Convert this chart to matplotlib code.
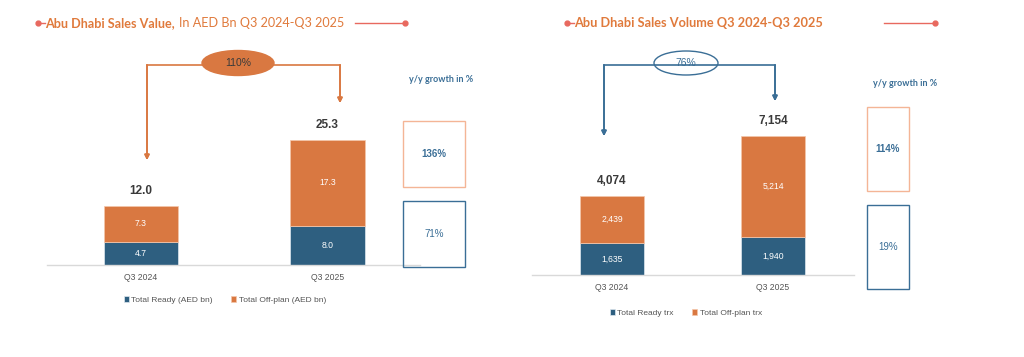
import matplotlib
matplotlib.use("Agg")
import matplotlib.pyplot as plt
from matplotlib.lines import Line2D
from matplotlib.patches import Ellipse, Rectangle

# data
quarters = ["Q3 2024", "Q3 2025"]
value_ready = [4.7, 8.0]
value_offplan = [7.3, 17.3]
value_total = [12.0, 25.3]
value_growth = "110%"
value_yoy = ["136%", "71%"]   # off-plan, ready

volume_ready = [1635, 1940]
volume_offplan = [2439, 5214]
volume_total = [4074, 7154]
volume_growth = "76%"
volume_yoy = ["114%", "19%"]

BLUE = "#2e5f80"
ORANGE = "#d97841"
TITLE_OR = "#e07a3c"
RED = "#e8695f"
TXT_BLUE = "#3a6e96"
DARK = "#3a3a3a"

W, H = 1024, 357


def fx(x):
    return x / W


def fy(y):
    return 1 - y / H


fig = plt.figure(figsize=(W / 100, H / 100), dpi=100)
fig.patch.set_facecolor("white")


def panel(left, right, base, top, centers, ppu, ready, offplan, total, fmt, leg_labels, leg_xy):
    ax = fig.add_axes([fx(left), fy(base), (right - left) / W, (base - top) / H])
    step = centers[1] - centers[0]
    ax.set_xlim((left - centers[0]) / step, (right - centers[0]) / step)
    ax.set_ylim(0, (base - top) / ppu)
    x = [0, 1]
    b1 = ax.bar(x, ready, width=0.4, color=BLUE, edgecolor="#dfe8ef", linewidth=0.5)
    b2 = ax.bar(x, offplan, width=0.4, bottom=ready, color=ORANGE, edgecolor="#f5c7ab", linewidth=0.5)
    for i in x:
        ax.text(i, ready[i] / 2, fmt(ready[i]), ha="center", va="center", color="white",
                fontsize=6.2, family="Liberation Sans")
        ax.text(i, ready[i] + offplan[i] / 2, fmt(offplan[i]), ha="center", va="center",
                color="white", fontsize=6.2, family="Liberation Sans")
        ax.text(i, total[i] + 15 / ppu, fmt(total[i]), ha="center", va="center", color=DARK,
                fontsize=8.5, fontweight="bold", family="Liberation Sans")
    for s in ["top", "left", "right"]:
        ax.spines[s].set_visible(False)
    ax.spines["bottom"].set_color("#d9d9d9")
    ax.spines["bottom"].set_linewidth(1)
    ax.set_yticks([])
    ax.set_xticks(x)
    ax.set_xticklabels(quarters, fontsize=6.2, color="#555555", family="Liberation Sans")
    ax.tick_params(axis="x", length=0, pad=6)
    ax.patch.set_alpha(0)
    ax.legend([b1, b2], leg_labels, loc="center", bbox_to_anchor=(fx(leg_xy[0]), fy(leg_xy[1])),
              bbox_transform=fig.transFigure, ncol=2, frameon=False,
              handlelength=0.6, handleheight=0.6, handletextpad=0.3, columnspacing=2.2,
              prop={"family": "Liberation Sans", "size": 6})
    for t in ax.get_legend().get_texts():
        t.set_color("#555555")
    return ax


panel(47, 420, 265, 100, [141, 327.5], 4.93, value_ready, value_offplan, value_total,
      lambda v: f"{v:.1f}", ["Total Ready (AED bn)", "Total Off-plan (AED bn)"], (225, 300))
panel(532, 854, 275, 100, [612, 773], 0.01941, volume_ready, volume_offplan, volume_total,
      lambda v: f"{v:,.0f}", ["Total Ready trx", "Total Off-plan trx"], (686, 313))


def line(x0, y0, x1, y1, color, lw=1.2):
    fig.add_artist(Line2D([fx(x0), fx(x1)], [fy(y0), fy(y1)], color=color, lw=lw,
                          transform=fig.transFigure))


def arrow(x, y0, y1, color):
    fig.add_artist(plt.annotate("", xy=(fx(x), fy(y1)), xytext=(fx(x), fy(y0)),
                                xycoords="figure fraction", textcoords="figure fraction",
                                arrowprops=dict(arrowstyle="-|>", color=color, lw=1.2,
                                                mutation_scale=7, shrinkA=0, shrinkB=0)))


def title(x_dot, y, bold, normal, line_x0, line_x1, size):
    fig.add_artist(Line2D([fx(x_dot)], [fy(y)], marker="o", ms=3.5, color=RED,
                          transform=fig.transFigure))
    line(x_dot, y, x_dot + 7, y, RED, 1)
    t = fig.text(fx(x_dot + 7), fy(y), bold, ha="left", va="center", color=TITLE_OR,
                 fontsize=size, fontweight="bold", family="Lato")
    if normal:
        fig.canvas.draw()
        bb = t.get_window_extent()
        fig.text(bb.x1 / W + fx(4), fy(y), normal, ha="left", va="center", color=TITLE_OR,
                 fontsize=size, family="Lato")
    line(line_x0, y, line_x1, y, RED, 1)
    fig.add_artist(Line2D([fx(line_x1)], [fy(y)], marker="o", ms=3.5, color=RED,
                          transform=fig.transFigure))


title(38, 23, "Abu Dhabi Sales Value,", "In AED Bn Q3 2024-Q3 2025", 355, 405, 9.1)
title(567, 23, "Abu Dhabi Sales Volume Q3 2024-Q3 2025", None, 884, 935, 9.2)

# growth brackets
line(147, 65, 340, 65, ORANGE)
arrow(147, 65, 160, ORANGE)
arrow(340, 65, 103, ORANGE)
fig.add_artist(Ellipse((fx(238), fy(63)), 72 / W, 25 / H, transform=fig.transFigure,
                       facecolor=ORANGE, edgecolor=ORANGE))
fig.text(fx(238), fy(63), value_growth, ha="center", va="center", color=DARK,
         fontsize=7.5, family="Liberation Sans")

line(604, 65, 775, 65, TXT_BLUE)
arrow(604, 65, 136, TXT_BLUE)
arrow(775, 65, 101, TXT_BLUE)
fig.add_artist(Ellipse((fx(686), fy(63)), 64 / W, 24 / H, transform=fig.transFigure,
                       facecolor="white", edgecolor=TXT_BLUE, lw=1))
fig.text(fx(686), fy(63), volume_growth, ha="center", va="center", color=TXT_BLUE,
         fontsize=7.5, family="Liberation Sans")

# y/y boxes
fig.text(fx(441), fy(79), "y/y growth in %", ha="center", va="center", color=TXT_BLUE,
         fontsize=6.5, fontweight="bold", family="Lato")
fig.text(fx(905), fy(83), "y/y growth in %", ha="center", va="center", color=TXT_BLUE,
         fontsize=6.5, fontweight="bold", family="Lato")


def box(x0, y0, x1, y1, color, label, bold):
    fig.add_artist(Rectangle((fx(x0), fy(y1)), (x1 - x0) / W, (y1 - y0) / H,
                             transform=fig.transFigure, facecolor="none", edgecolor=color, lw=1))
    fig.text(fx((x0 + x1) / 2), fy((y0 + y1) / 2), label, ha="center", va="center",
             color=TXT_BLUE, fontsize=7, fontweight="bold" if bold else "normal",
             family="Liberation Sans")


box(403, 121, 465, 187, "#f4b596", value_yoy[0], True)
box(403, 201, 465, 267, TXT_BLUE, value_yoy[1], False)
box(867, 107, 909, 191, "#f4b596", volume_yoy[0], True)
box(867, 205, 909, 289, TXT_BLUE, volume_yoy[1], False)

fig.savefig("out.png", dpi=100, facecolor="white")
